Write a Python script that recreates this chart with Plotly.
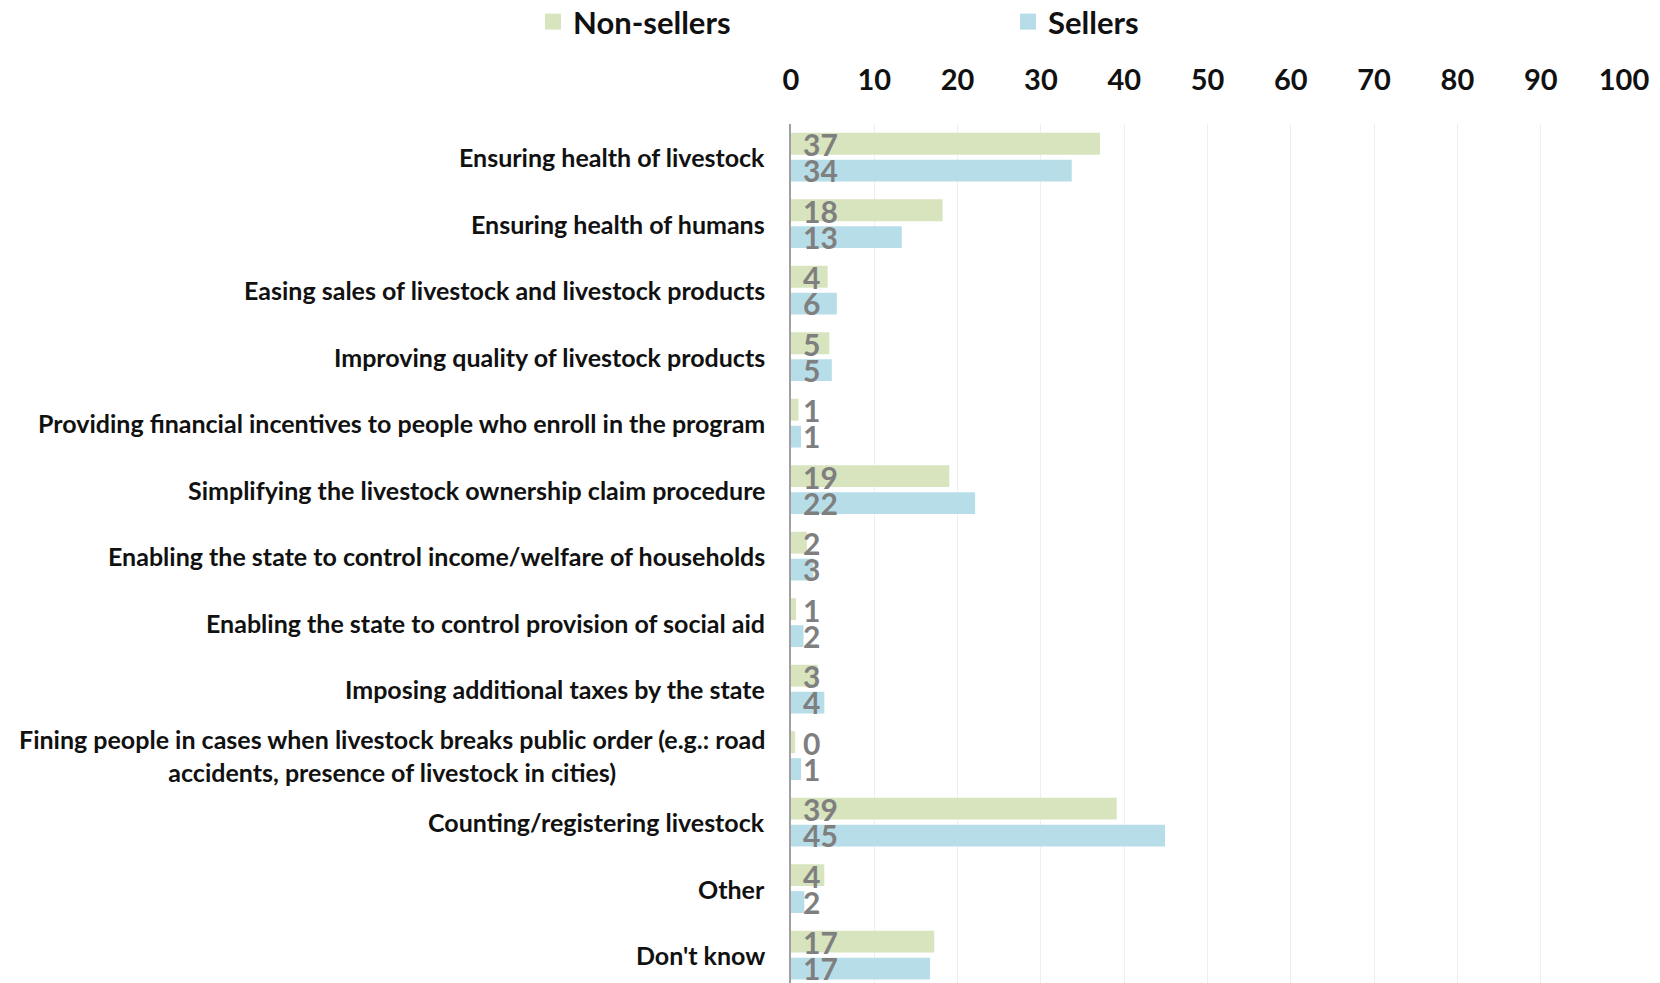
import plotly.graph_objects as go

categories = [
    "Ensuring health of livestock",
    "Ensuring health of humans",
    "Easing sales of livestock and livestock products",
    "Improving quality of livestock products",
    "Providing financial incentives to people who enroll in the program",
    "Simplifying the livestock ownership claim procedure",
    "Enabling the state to control income/welfare of households",
    "Enabling the state to control provision of social aid",
    "Imposing additional taxes by the state",
    "Fining people in cases when livestock breaks public order (e.g.: road<br>accidents, presence of livestock in cities)",
    "Counting/registering livestock",
    "Other",
    "Don't know",
]

non_sellers = [37.1, 18.2, 4.4, 4.6, 0.9, 19.0, 1.9, 0.6, 3.2, 0.5, 39.1, 4.0, 17.2]
sellers = [33.7, 13.3, 5.5, 4.9, 1.2, 22.1, 2.7, 1.5, 4.0, 1.2, 44.9, 1.6, 16.7]

non_sellers_labels = ["37", "18", "4", "5", "1", "19", "2", "1", "3", "0", "39", "4", "17"]
sellers_labels = ["34", "13", "6", "5", "1", "22", "3", "2", "4", "1", "45", "2", "17"]

x_ticks = [0, 10, 20, 30, 40, 50, 60, 70, 80, 90, 100]

FONT = "Lato, sans-serif"
GREEN = "#d7e4bd"
BLUE = "#b7dee8"

fig = go.Figure()
fig.add_trace(go.Bar(y=categories, x=non_sellers, name="Non-sellers", orientation="h",
                     marker=dict(color=GREEN, line=dict(width=0)), showlegend=False))
fig.add_trace(go.Bar(y=categories, x=sellers, name="Sellers", orientation="h",
                     marker=dict(color=BLUE, line=dict(width=0)), showlegend=False))

# legend-only entries so the legend squares can be a bit bigger than plotly's bar swatch
for name, color in (("Non-sellers", GREEN), ("Sellers", BLUE)):
    fig.add_trace(go.Scatter(x=[None], y=[None], mode="markers", name=name,
                             marker=dict(symbol="square", size=17, color=color)))

annotations = []
# category labels, drawn as annotations so the two-line label stays centred
for cat in categories:
    annotations.append(dict(
        x=0, xref="paper", y=cat, yref="y", text=cat, showarrow=False,
        xanchor="right", yanchor="middle", align="center", xshift=-24,
        font=dict(family=FONT, size=25, color="#111111", weight="bold"),
    ))

# value labels sit just right of the zero line
for cat, lab_n, lab_s in zip(categories, non_sellers_labels, sellers_labels):
    for lab, shift in ((lab_n, 13), (lab_s, -13)):
        annotations.append(dict(
            x=0, y=cat, text=lab, showarrow=False, xanchor="left", yanchor="middle",
            xshift=10, yshift=shift,
            font=dict(family=FONT, size=30, color="#7f7f7f", weight="bold"),
        ))

# page body has an 8px margin, so the figure is 8px smaller than the window
fig.update_layout(
    width=1652, height=975,
    margin=dict(l=783, r=36, t=116, b=0, autoexpand=False),
    paper_bgcolor="white", plot_bgcolor="white",
    barmode="group", bargap=0.19, bargroupgap=0.19,
    annotations=annotations,
    legend=dict(
        orientation="h", x=-0.3097, y=1.1502, xanchor="left", yanchor="top",
        entrywidth=430, entrywidthmode="pixels",
        font=dict(family=FONT, size=31, color="#111111", weight="bold"),
        itemclick=False, traceorder="normal",
    ),
    xaxis=dict(
        side="top", range=[0, 100], tickvals=x_ticks, showgrid=True, gridcolor="#eeeeee",
        gridwidth=1, zeroline=False, showline=False, ticks="", ticklabelstandoff=27,
        tickfont=dict(family=FONT, size=29, color="#111111", weight="bold"),
    ),
    yaxis=dict(
        # last category runs off the bottom edge, as in the source image
        categoryorder="array", categoryarray=categories, range=[12.42, -0.5],
        showticklabels=False, showgrid=False, zeroline=False,
        showline=True, linecolor="#a0a0a0", linewidth=2, ticks="",
    ),
)

fig.write_html("out.html")
